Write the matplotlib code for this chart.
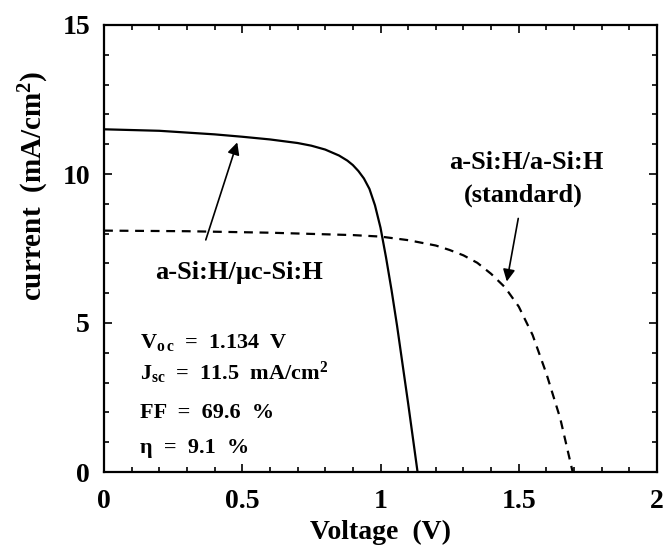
import numpy as np
import matplotlib
matplotlib.use('Agg')
import matplotlib.pyplot as plt
from matplotlib.ticker import MultipleLocator

# a-Si:H/uc-Si:H tandem (solid)
v_micro = [0, 0.2, 0.4, 0.5, 0.6, 0.7, 0.75, 0.8, 0.85, 0.88, 0.9, 0.92, 0.94, 0.96,
           0.98, 1.0, 1.02, 1.04, 1.06, 1.08, 1.1, 1.12, 1.134]
j_micro = [11.5, 11.45, 11.33, 11.25, 11.16, 11.04, 10.95, 10.82, 10.62, 10.45, 10.3, 10.1,
           9.85, 9.5, 8.95, 8.2, 7.2, 6.1, 4.9, 3.6, 2.3, 0.95, 0]

# a-Si:H/a-Si:H standard (dashed)
v_std = [0, 0.3, 0.6, 0.9, 1.0, 1.1, 1.2, 1.25, 1.3, 1.35, 1.4, 1.45, 1.5, 1.55, 1.6, 1.65, 1.695]
j_std = [8.1, 8.08, 8.03, 7.95, 7.9, 7.78, 7.6, 7.45, 7.27, 7.02, 6.65, 6.2, 5.55, 4.6, 3.3, 1.8, 0]

x_ticks = [0, 0.5, 1, 1.5, 2]
x_labels = ['0', '0.5', '1', '1.5', '2']
y_ticks = [0, 5, 10, 15]

plt.rcParams['font.family'] = ['Liberation Serif', 'DejaVu Serif']
plt.rcParams['font.weight'] = 'bold'
plt.rcParams['mathtext.fontset'] = 'custom'
plt.rcParams['mathtext.rm'] = 'Liberation Serif:bold'
plt.rcParams['mathtext.it'] = 'Liberation Serif:bold'
plt.rcParams['mathtext.bf'] = 'Liberation Serif:bold'

fig = plt.figure(figsize=(6.68, 5.51), dpi=100)
ax = fig.add_axes([104 / 668, 1 - 472 / 551, (657 - 104) / 668, (472 - 25) / 551])

ax.plot(v_micro, j_micro, color='black', lw=1.6)
ax.plot(v_std, j_std, color='black', lw=1.6, dashes=(4, 3))

ax.set_xlim(0, 2)
ax.set_ylim(0, 15)
ax.set_xticks(x_ticks)
ax.set_xticklabels(x_labels)
ax.set_yticks(y_ticks)
ax.xaxis.set_minor_locator(MultipleLocator(0.1))
ax.yaxis.set_minor_locator(MultipleLocator(1))
ax.tick_params(which='both', direction='in', top=True, right=True, width=1.2)
ax.tick_params(which='major', length=6, labelsize=20)
ax.tick_params(axis='x', which='major', pad=12)
ax.tick_params(axis='y', which='major', pad=10)
ax.tick_params(which='minor', length=3.5)
for s in ax.spines.values():
    s.set_linewidth(1.6)

ax.set_xlabel('Voltage  (V)', fontsize=20, fontweight='bold')
ax.xaxis.set_label_coords(0.5, -0.108)
ax.set_ylabel('current  (mA/cm$^2$)', fontsize=21, fontweight='bold')
ax.yaxis.set_label_coords(-0.095, 0.64)

ax.text(0.488, 6.68, 'a-Si:H/\u00b5c-Si:H', fontsize=19, fontweight='bold', ha='center', va='center')
ax.annotate('', xy=(0.485, 11.15), xytext=(0.365, 7.7),
            arrowprops=dict(arrowstyle='-|>', color='black', lw=1.2, mutation_scale=18))

ax.text(1.526, 10.37, 'a-Si:H/a-Si:H', fontsize=19, fontweight='bold', ha='center', va='center')
ax.text(1.515, 9.3, '(standard)', fontsize=19, fontweight='bold', ha='center', va='center')
ax.annotate('', xy=(1.455, 6.3), xytext=(1.5, 8.6),
            arrowprops=dict(arrowstyle='-|>', color='black', lw=1.2, mutation_scale=18))

ax.text(0.13, 4.36, 'V$_{o\\,c}$  =  1.134  V', fontsize=16, fontweight='bold', va='center')
ax.text(0.13, 3.32, 'J$_{sc}$  =  11.5  mA/cm$^2$', fontsize=16, fontweight='bold', va='center')
ax.text(0.13, 1.98, 'FF  =  69.6  %', fontsize=16, fontweight='bold', va='center')
ax.text(0.13, 0.8, '\u03b7  =  9.1  %', fontsize=16, fontweight='bold', va='center')

fig.savefig('out.png', dpi=100)
